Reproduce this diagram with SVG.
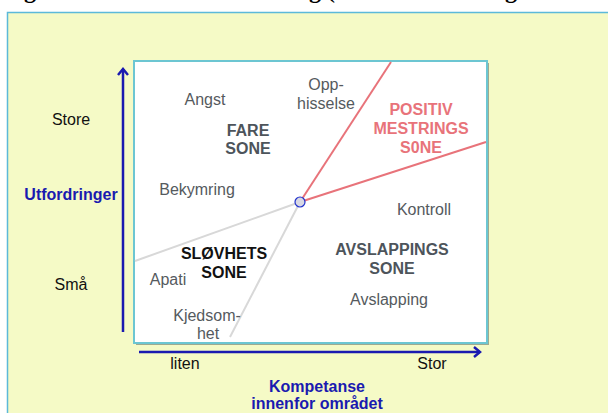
<svg xmlns="http://www.w3.org/2000/svg" width="608" height="413" viewBox="0 0 608 413">
<style>
.lbl{font-family:"Liberation Sans",Arial,sans-serif;font-size:16px;text-anchor:middle}
.g{fill:#555a5e}
.b{font-weight:bold}
.zone{fill:#4d545b;font-weight:bold}
.pos{fill:#e8737a;font-weight:bold}
.blk{fill:#111}
.blue{fill:#1a1ab0;font-weight:bold}
.ax{stroke:#1a1ab0;stroke-width:2.5;fill:none}
.title{font-family:"Liberation Serif","Times New Roman",serif;font-size:24px;font-weight:bold;fill:#000}
</style>
<rect width="608" height="413" fill="#ffffff"/>
<g id="title-fragments">
<text class="title" x="24" y="-2">g</text>
<text class="title" x="309" y="-2">g (</text>
<text class="title" x="505" y="-2">g</text>
</g>
<rect id="panel" x="7.5" y="12.5" width="620" height="420" fill="#f5fac6" stroke="#5cb9d9" stroke-width="1.5"/>
<g id="plot">
<rect x="136" y="63" width="353" height="282" fill="#4a5a5a" opacity="0.5"/>
<rect x="134" y="61" width="353" height="282" fill="#ffffff" stroke="#6cc6d2" stroke-width="2"/>
</g>
<g id="connectors">
<line x1="300" y1="202" x2="391" y2="62" stroke="#e8737a" stroke-width="2"/>
<line x1="300" y1="202" x2="486" y2="142" stroke="#e8737a" stroke-width="2"/>
<line x1="300" y1="202" x2="135" y2="261" stroke="#d8d8d8" stroke-width="2"/>
<line x1="300" y1="202" x2="230" y2="337" stroke="#d8d8d8" stroke-width="2"/>
</g>
<g id="center">
<circle cx="300" cy="202" r="5" fill="#d8d8e4" stroke="#2233cc" stroke-width="1.2"/>
</g>
<g id="axis-y">
<line class="ax" x1="123" y1="332" x2="123" y2="69"/>
<polyline class="ax" points="118,75 123,69 128,75"/>
</g>
<g id="axis-x">
<line class="ax" x1="139" y1="352" x2="480" y2="352"/>
<polyline class="ax" points="474,347 480,352 474,357"/>
</g>
<g id="zone-fare">
<text class="lbl zone" x="248" y="136">FARE</text>
<text class="lbl zone" x="248" y="154">SONE</text>
</g>
<g id="zone-positiv">
<text class="lbl pos" x="421" y="115">POSITIV</text>
<text class="lbl pos" x="421" y="134">MESTRINGS</text>
<text class="lbl pos" x="421" y="153">S0NE</text>
</g>
<g id="zone-slovhets">
<text class="lbl b blk" x="224" y="259">SLØVHETS</text>
<text class="lbl b blk" x="224" y="278">SONE</text>
</g>
<g id="zone-avslappings">
<text class="lbl zone" x="392" y="255">AVSLAPPINGS</text>
<text class="lbl zone" x="392" y="274">SONE</text>
</g>
<g id="states">
<text class="lbl g" x="205" y="105">Angst</text>
<text class="lbl g" x="326" y="90">Opp-</text>
<text class="lbl g" x="326" y="109">hisselse</text>
<text class="lbl g" x="197" y="195">Bekymring</text>
<text class="lbl g" x="424" y="215">Kontroll</text>
<text class="lbl g" x="389" y="305">Avslapping</text>
<text class="lbl g" x="168" y="285">Apati</text>
<text class="lbl g" x="207" y="321">Kjedsom-</text>
<text class="lbl g" x="208" y="339">het</text>
</g>
<g id="axis-labels">
<text class="lbl blk" x="71" y="125">Store</text>
<text class="lbl blue" x="71" y="200">Utfordringer</text>
<text class="lbl blk" x="71" y="290">Små</text>
<text class="lbl blk" x="185" y="369">liten</text>
<text class="lbl blk" x="432" y="369">Stor</text>
<text class="lbl blue" x="317" y="392">Kompetanse</text>
<text class="lbl blue" x="317" y="409">innenfor området</text>
</g>
</svg>
